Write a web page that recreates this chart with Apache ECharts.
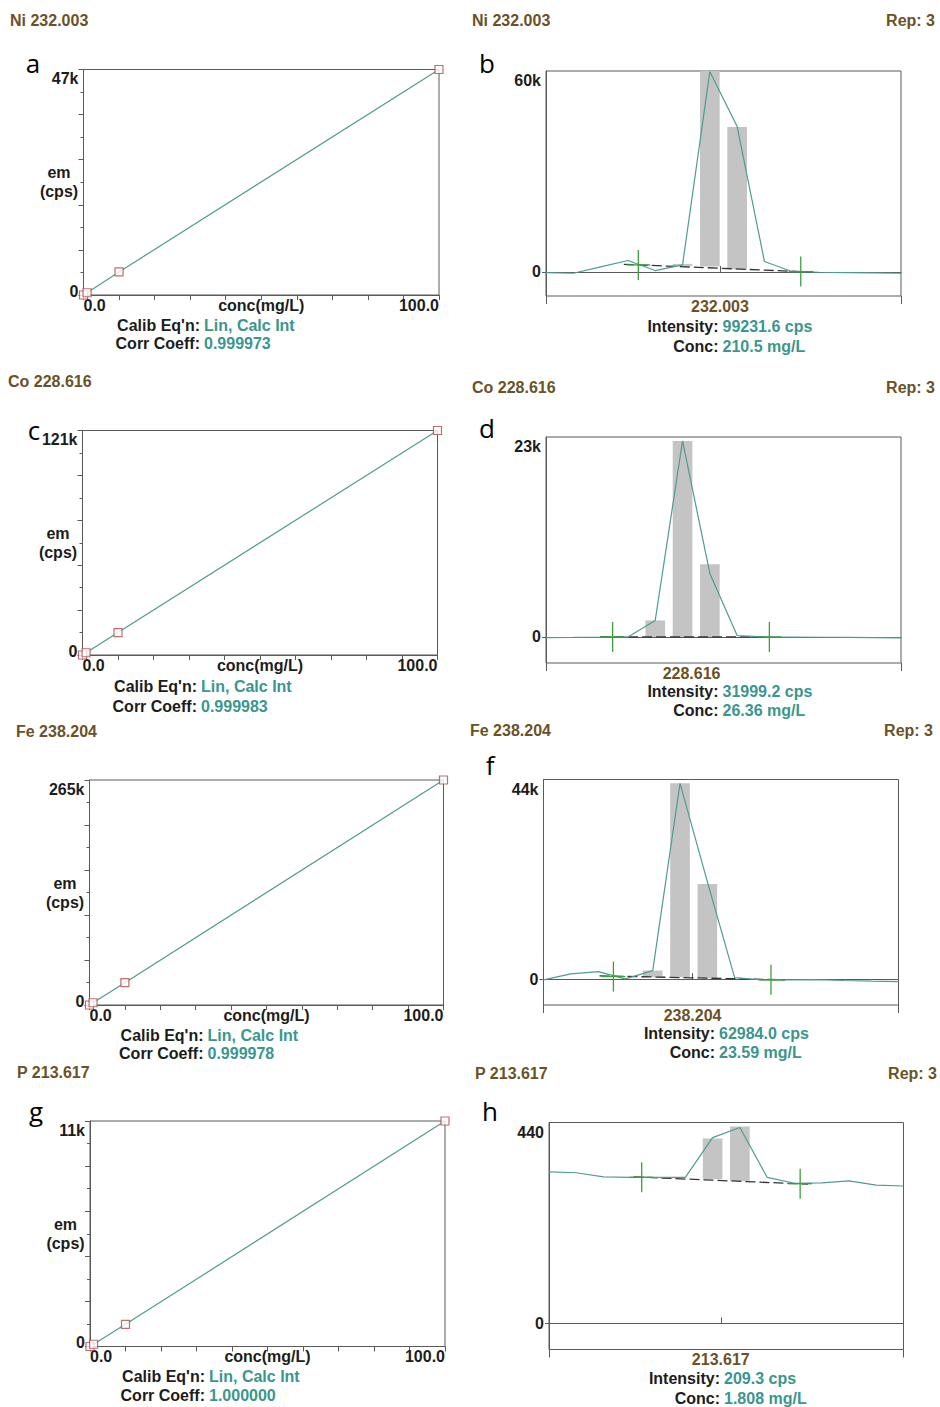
<!DOCTYPE html>
<html>
<head>
<meta charset="utf-8">
<script src="https://cdn.jsdelivr.net/npm/echarts@6/dist/echarts.min.js"></script>
<style>
html,body{margin:0;padding:0;background:#ffffff;}
#chart{width:940px;height:1407px;}
</style>
</head>
<body>
<div id="chart"></div>
<script>
// ---------------- DATA ----------------
// element lines
const elementLines = ['Ni 232.003', 'Co 228.616', 'Fe 238.204', 'P 213.617'];
const wavelengths = ['232.003', '228.616', '238.204', '213.617'];
const panelLettersLeft = ['a', 'c', '', 'g'];
const panelLettersRight = ['b', 'd', 'f', 'h'];
const repText = 'Rep: 3';

// calibration curves (conc in mg/L, emission in cps)
const calibConc = [0, 1, 10, 100];
const calibNi = [0, 470, 4800, 47000];
const calibCo = [0, 1210, 12100, 121000];
const calibFe = [0, 2650, 26300, 265000];
const calibP = [0, 110, 1080, 11000];
const calibMax = [47000, 121000, 265000, 11000];
const calibMaxLabels = ['47k', '121k', '265k', '11k'];
const calibXLabels = ['0.0', 'conc(mg/L)', '100.0'];
const calibYName = 'em\n(cps)';
const calibEqn = 'Lin, Calc Int';
const corrCoeff = ['0.999973', '0.999983', '0.999978', '1.000000'];

// spectra: scan points (index), intensity (cps)
const specIndex = [0, 1, 2, 3, 4, 5, 6, 7, 8, 9, 10, 11, 12, 13];
const specNi = [-200, -400, 1500, 3400, 400, 2100, 59800, 43400, 3100, 100, -100, -200, -300, -400];
const specCo = [-70, -60, -40, 0, 1900, 22550, 7300, 160, 0, -20, -40, -60, -80, -100];
const specFe = [-150, 1170, 1670, 70, 1890, 43160, 21490, 350, -150, -150, -90, -300, -440, -530];
const specP = [332, 330, 321, 320, 320, 320, 407, 429, 320, 307, 308, 312, 303, 301];
const specMin = [-7200, -3000, -5700, -57];
const specMax = [60000, 23000, 44000, 440];
const specMaxLabels = ['60k', '23k', '44k', '440'];
const wavelengthPos = [6.37, 5.33, 5.46, 6.30];

// peak bars: [index, base, top]
const barsNi = [[5, 1790, 2390], [6, 1580, 60000], [7, 800, 43280]];
const barsCo = [[4, 0, 1900], [5, 0, 22550], [6, 0, 8370]];
const barsFe = [[4, 440, 1890], [5, 440, 43160], [6, 220, 20980]];
const barsP = [[6, 316, 405], [7, 312, 431]];

// background correction points (crosses): [index, intensity]
const crossNi = [[3.38, 2090], [9.33, 90]];
const crossCo = [[2.44, 0], [8.18, 0]];
const crossFe = [[2.56, 570], [8.33, -150]];
const crossP = [[3.40, 320], [9.21, 306]];

// background baseline (dashed): [index, intensity]
const baseNi = [[2.85, 2270], [9.8, -70]];
const baseCo = [[1.98, 0], [8.18, 0]];
const baseFe = [[2.05, 730], [8.85, -150]];
const baseP = [[3.1, 321], [9.5, 305]];

const intensities = ['99231.6 cps', '31999.2 cps', '62984.0 cps', '209.3 cps'];
const concs = ['210.5 mg/L', '26.36 mg/L', '23.59 mg/L', '1.808 mg/L'];

// ---------------- LAYOUT / STYLE ----------------
const calibData = [calibNi, calibCo, calibFe, calibP];
const specData = [specNi, specCo, specFe, specP];
const barsData = [barsNi, barsCo, barsFe, barsP];
const crossData = [crossNi, crossCo, crossFe, crossP];
const baseData = [baseNi, baseCo, baseFe, baseP];

const calibGrids = [
  {left: 83.5, top: 69.5, width: 355.5, height: 225.5},
  {left: 82.5, top: 430.5, width: 355, height: 224.5},
  {left: 89.5, top: 780, width: 354, height: 225},
  {left: 90, top: 1121, width: 355, height: 225.5}
];
const specGrids = [
  {left: 546, top: 71, width: 355, height: 225},
  {left: 546, top: 437, width: 355, height: 226},
  {left: 543.5, top: 779.5, width: 355, height: 225.5},
  {left: 549, top: 1122.5, width: 354.5, height: 227}
];
// text anchor positions
const leftTitlePos = [[10, 20], [8, 381], [16, 731], [17, 1072]];
const rightTitlePos = [[472, 20], [472, 387], [470, 730], [475, 1073]];
const repPos = [[935, 20], [935, 387], [933, 730], [937, 1073]];
const leftLetterPos = [[33, 63], [34, 430], [0, 0], [36, 1111]];
const rightLetterPos = [[487, 63], [487, 428], [490, 765], [490, 1111]];
const calibTextPos = [[200, 325, 343.5], [197, 686.5, 706], [203.5, 1035, 1053.5], [205, 1376, 1395]];
const specTextPos = [[718.5, 326, 346.5], [718.5, 691.5, 710.5], [715, 1033.5, 1052.5], [720, 1378.5, 1398.5]];

const FONT = '"Liberation Sans", Arial, Helvetica, sans-serif';
const BROWN = '#6b5226';
const BLACK = '#1c1c1c';
const TEAL = '#3a968e';
const LINE_TEAL = '#4f9c92';
const AXIS = '#5a5a5a';
const bold = {fontFamily: FONT, fontWeight: 'bold', fontSize: 16, color: BLACK};

function yLabel(maxVal, maxLabel, topPad, zeroPad) {
  return {
    customValues: [0, maxVal],
    margin: 5,
    formatter: function (v) { return v === 0 ? '{z|0}' : '{t|' + maxLabel + '}'; },
    rich: {
      z: Object.assign({}, bold, {padding: [0, 0, zeroPad, 0]}),
      t: Object.assign({}, bold, {padding: [topPad, 0, 0, 0]})
    }
  };
}

const grids = [], xAxes = [], yAxes = [], series = [], graphics = [];

function txt(x, y, text, style) {
  graphics.push({
    type: 'text', x: x, y: y, silent: true,
    style: Object.assign({text: text, font: 'bold 16px ' + FONT, fill: BLACK, align: 'left', verticalAlign: 'middle'}, style)
  });
}

// ---------- calibration panels ----------
for (let i = 0; i < 4; i++) {
  const gr = calibGrids[i];
  grids.push(Object.assign({show: true, borderColor: AXIS, borderWidth: 1, backgroundColor: 'transparent'}, gr));
  xAxes.push({
    gridIndex: i, type: 'value', min: 0, max: 100, interval: 10, position: 'bottom',
    axisLine: {show: true, lineStyle: {color: AXIS, width: 1}},
    axisTick: {show: true, length: 5, lineStyle: {color: AXIS}},
    splitLine: {show: false},
    axisLabel: Object.assign({}, bold, {
      customValues: [0, 50, 100], margin: 2,
      alignMinLabel: 'left', alignMaxLabel: 'right',
      formatter: function (v) { return v === 0 ? calibXLabels[0] : (v === 100 ? calibXLabels[2] : calibXLabels[1]); }
    })
  });
  yAxes.push({
    gridIndex: i, type: 'value', min: 0, max: calibMax[i], interval: calibMax[i] / 5,
    axisLine: {show: true, lineStyle: {color: AXIS, width: 1}},
    axisTick: {show: true, length: 5, lineStyle: {color: AXIS}},
    minorTick: {show: true, splitNumber: 2, length: 3, lineStyle: {color: AXIS}},
    splitLine: {show: false}, minorSplitLine: {show: false},
    axisLabel: yLabel(calibMax[i], calibMaxLabels[i], 18, 8)
  });
  const pts = calibConc.map(function (c, j) { return [c, calibData[i][j]]; });
  series.push({
    type: 'line', xAxisIndex: i, yAxisIndex: i, data: pts, symbol: 'none',
    lineStyle: {color: LINE_TEAL, width: 1.2}, z: 2, silent: true, animation: false
  });
  series.push({
    type: 'scatter', xAxisIndex: i, yAxisIndex: i, data: pts, symbol: 'rect', symbolSize: 8,
    itemStyle: {color: '#ffffff', borderColor: '#b04a4a', borderWidth: 1.2},
    clip: false, z: 3, silent: true, animation: false
  });

  // y-axis title
  txt(gr.left - 24.5, gr.top + gr.height / 2, calibYName, {align: 'center', lineHeight: 19});
  txt(leftTitlePos[i][0], leftTitlePos[i][1], elementLines[i], {fill: BROWN});
  if (panelLettersLeft[i]) {
    txt(leftLetterPos[i][0], leftLetterPos[i][1], panelLettersLeft[i],
      {font: '26px "Open Sans", "DejaVu Sans", sans-serif', fill: '#000', align: 'center'});
  }
  const cp = calibTextPos[i];
  txt(cp[0], cp[1], "Calib Eq'n:", {align: 'right'});
  txt(cp[0] + 4, cp[1], calibEqn, {fill: TEAL});
  txt(cp[0], cp[2], 'Corr Coeff:', {align: 'right'});
  txt(cp[0] + 4, cp[2], corrCoeff[i], {fill: TEAL});
}

// ---------- spectrum panels ----------
for (let i = 0; i < 4; i++) {
  const g = 4 + i;
  grids.push(Object.assign({show: true, borderColor: AXIS, borderWidth: 1, backgroundColor: 'transparent'}, specGrids[i]));
  const xMain = xAxes.length;
  xAxes.push({
    gridIndex: g, type: 'value', min: 0, max: 13, position: 'bottom', offset: 0,
    axisLine: {show: true, lineStyle: {color: AXIS, width: 1}},
    axisTick: {show: true, inside: true, length: 6, customValues: [wavelengthPos[i]], lineStyle: {color: AXIS}},
    splitLine: {show: false},
    axisLabel: Object.assign({}, bold, {
      color: BROWN, customValues: [wavelengthPos[i]], margin: 2,
      formatter: function () { return wavelengths[i]; }
    })
  });
  xAxes.push({
    gridIndex: g, type: 'value', min: 0, max: 13, position: 'bottom', offset: 0,
    axisLine: {show: false},
    axisTick: {show: true, inside: false, length: 8, customValues: [0, 13], lineStyle: {color: AXIS}},
    splitLine: {show: false},
    axisLabel: {show: false}
  });
  const yIdx = yAxes.length;
  yAxes.push({
    gridIndex: g, type: 'value', min: specMin[i], max: specMax[i],
    axisLine: {show: true, lineStyle: {color: AXIS, width: 1}},
    axisTick: {show: true, length: 4, customValues: [0], lineStyle: {color: AXIS}},
    splitLine: {show: false},
    axisLabel: yLabel(specMax[i], specMaxLabels[i], 19, 0)
  });

  // peak bars (from background baseline to peak intensity)
  series.push({
    type: 'custom', xAxisIndex: xMain, yAxisIndex: yIdx, data: barsData[i],
    encode: {x: 0, y: [1, 2]}, z: 1, silent: true, animation: false,
    renderItem: function (params, api) {
      const x = api.value(0);
      const p0 = api.coord([x, api.value(1)]);
      const p1 = api.coord([x, api.value(2)]);
      const w = api.size([1, 0])[0] * 0.72;
      return {
        type: 'rect',
        shape: {x: p0[0] - w / 2, y: p1[1], width: w, height: p0[1] - p1[1]},
        style: {fill: '#c4c4c4'}
      };
    }
  });
  // dashed background line
  series.push({
    type: 'line', xAxisIndex: xMain, yAxisIndex: yIdx, data: baseData[i], symbol: 'none',
    lineStyle: {color: '#333333', width: 1.3, type: [10, 4]}, z: 2, silent: true, animation: false
  });
  // spectrum
  series.push({
    type: 'line', xAxisIndex: xMain, yAxisIndex: yIdx,
    data: specIndex.map(function (k, j) { return [k, specData[i][j]]; }),
    symbol: 'none', lineStyle: {color: LINE_TEAL, width: 1.2}, z: 3, silent: true, animation: false
  });
  // background correction crosses
  series.push({
    type: 'custom', xAxisIndex: xMain, yAxisIndex: yIdx, data: crossData[i],
    encode: {x: 0, y: 1}, z: 4, silent: true, animation: false,
    renderItem: function (params, api) {
      const p = api.coord([api.value(0), api.value(1)]);
      const st = {stroke: '#3d9f3d', lineWidth: 1.3};
      return {
        type: 'group', children: [
          {type: 'line', shape: {x1: p[0] - 12, y1: p[1], x2: p[0] + 12, y2: p[1]}, style: st},
          {type: 'line', shape: {x1: p[0], y1: p[1] - 15, x2: p[0], y2: p[1] + 15}, style: st}
        ]
      };
    }
  });

  txt(rightTitlePos[i][0], rightTitlePos[i][1], elementLines[i], {fill: BROWN});
  txt(repPos[i][0], repPos[i][1], repText, {fill: BROWN, align: 'right'});
  txt(rightLetterPos[i][0], rightLetterPos[i][1], panelLettersRight[i],
    {font: '26px "Open Sans", "DejaVu Sans", sans-serif', fill: '#000', align: 'center'});
  const sp = specTextPos[i];
  txt(sp[0], sp[1], 'Intensity:', {align: 'right'});
  txt(sp[0] + 4, sp[1], intensities[i], {fill: TEAL});
  txt(sp[0], sp[2], 'Conc:', {align: 'right'});
  txt(sp[0] + 4, sp[2], concs[i], {fill: TEAL});
}

const chart = echarts.init(document.getElementById('chart'), null, {renderer: 'svg', width: 940, height: 1407});
chart.setOption({
  backgroundColor: '#ffffff',
  animation: false,
  grid: grids,
  xAxis: xAxes,
  yAxis: yAxes,
  series: series,
  graphic: graphics
});
</script>
</body>
</html>
